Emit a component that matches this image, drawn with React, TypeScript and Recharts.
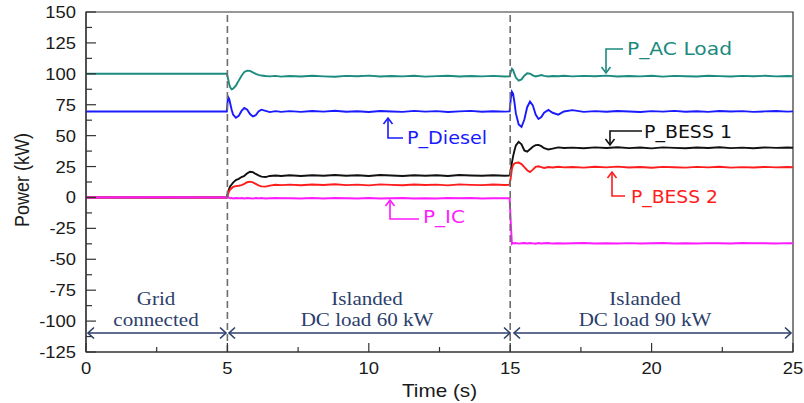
import React from 'react';
import { LineChart, Line, XAxis, YAxis, ReferenceLine, ReferenceArea } from 'recharts';

// Time axis (s)
const timeS = [
  0, 2.5, 4.98,
  5.02, 5.06, 5.1, 5.15, 5.2, 5.3, 5.4, 5.5, 5.6, 5.7, 5.8, 5.9, 6.0, 6.1, 6.2, 6.35, 6.5, 6.7, 6.9,
  7.2, 7.6, 8.0, 8.4, 8.8, 9.2, 9.6, 10.0, 10.4, 10.8, 11.2, 11.6, 12.0, 12.4, 12.8, 13.2, 13.6, 14.0, 14.4, 14.8, 14.98,
  15.02, 15.06, 15.1, 15.15, 15.2, 15.3, 15.4, 15.5, 15.6, 15.7, 15.8, 15.9, 16.0, 16.1, 16.2, 16.35, 16.5, 16.7, 16.9,
  17.2, 17.6, 18.0, 18.4, 18.8, 19.2, 19.6, 20.0, 20.4, 20.8, 21.2, 21.6, 22.0, 22.4, 22.8, 23.2, 23.6, 24.0, 24.4, 24.8, 25,
];

// P_AC Load (kW)
const pAcLoad = [
  100, 100, 100,
  96.5, 92, 89, 87.5, 88, 90.5, 94.5, 98.5, 101.5, 102.6, 102.4, 101.2, 100, 99.2, 98.6, 98.2, 97.9, 98.3, 97.7,
  98.2, 97.8, 98.4, 97.9, 97.6, 98.3, 98.0, 98.5, 97.8, 98.2, 97.9, 98.4, 97.7, 98.1, 98.4, 97.8, 98.2, 97.9, 98.3, 97.8, 98.0,
  101.5, 104, 103, 100, 97, 94.5, 95.5, 98.5, 100.5, 100.2, 98.8, 97.9, 98.4, 99.0, 98.3, 97.8, 98.2, 98.0, 98.4,
  97.9, 98.3, 98.0, 98.5, 97.8, 98.2, 97.9, 98.4, 97.7, 98.3, 98.0, 97.8, 98.4, 98.1, 97.8, 98.3, 98.0, 98.4, 97.9, 98.2, 98.0,
];

// P_Diesel (kW)
const pDiesel = [
  69.5, 69.5, 69.5,
  81.5, 80, 76, 71, 67, 64.5, 66, 70, 72.4, 71, 67.5, 65.5, 66.5, 69.5, 71, 70, 69, 69.8, 69.2,
  69.8, 69.2, 69.9, 69.4, 70.1, 69.3, 69.7, 69.1, 69.9, 69.5, 69.2, 70.0, 69.4, 69.8, 69.1, 69.6, 70.0, 69.3, 69.7, 69.4, 69.6,
  80, 85.5, 84, 77, 68, 59, 57, 63, 73, 77.5, 74.5, 67, 63.5, 65, 68.5, 70.8, 68.5, 67, 69.5,
  70.6, 69.2, 69.8, 69.3, 69.9, 69.5, 69.1, 69.8, 69.4, 70.0, 69.3, 69.7, 69.2, 69.9, 69.5, 69.8, 69.2, 69.6, 69.9, 69.4, 69.6,
];

// P_BESS 1 (kW)
const pBess1 = [
  0, 0, 0,
  4, 7, 9, 10.5, 12, 14, 15, 16.5, 17.5, 19.5, 20.8, 20.5, 19, 17.8, 16.8, 16.5, 17.4, 17.8, 17.3,
  17.9, 17.4, 18.0, 17.6, 18.2, 17.5, 17.9, 17.3, 18.1, 17.7, 17.4, 18.0, 17.6, 17.9, 17.3, 18.1, 17.7, 17.5, 18.0, 17.6, 17.8,
  22, 28, 33, 38, 42, 45, 43, 38, 37, 39, 41, 42.3, 42.5, 41.5, 39.8, 38.8, 39.5, 40.5, 40,
  40.3, 39.8, 40.5, 40.0, 40.6, 39.9, 40.4, 39.7, 40.5, 40.1, 39.8, 40.4, 40.0, 40.6, 39.9, 40.3, 39.8, 40.5, 40.1, 40.4, 40.2,
];

// P_BESS 2 (kW)
const pBess2 = [
  0, 0, 0,
  2.5, 5, 6.5, 7.5, 8.5, 9.2, 9.5, 10, 11, 12.3, 12.8, 12.2, 11, 9.8, 9, 8.8, 9.6, 10.3, 10.0,
  10.4, 9.9, 10.5, 10.1, 10.7, 10.0, 10.4, 9.8, 10.6, 10.2, 9.9, 10.5, 10.1, 10.4, 9.8, 10.6, 10.2, 10.0, 10.5, 10.1, 10.3,
  16, 23, 26, 27.5, 28, 28.2, 27, 24.5, 22, 20.5, 22.5, 24.8, 25.2, 24.5, 23.8, 24.6, 24.2, 24.8, 24.3,
  24.6, 24.1, 24.8, 24.3, 24.9, 24.2, 24.6, 24.0, 24.7, 24.4, 24.1, 24.7, 24.3, 24.8, 24.1, 24.5, 24.2, 24.7, 24.3, 24.6, 24.4,
];

// P_IC (kW)
const pIc = [
  0, 0.2, 0,
  0.5, -0.3, -0.6, -0.4, -0.8, -0.5, -0.7, -0.4, -0.8, -0.5, -0.6, -0.9, -0.5, -0.7, -0.4, -0.8, -0.6, -0.5, -0.7,
  -0.6, -0.9, -0.5, -0.8, -0.4, -0.7, -0.9, -0.5, -0.8, -0.6, -0.4, -0.8, -0.6, -0.9, -0.5, -0.7, -0.4, -0.8, -0.6, -0.7, -0.6,
  -20, -37.5, -36.8, -37.2, -36.9, -37.3, -37.0, -36.8, -37.2, -36.9, -37.1, -37.4, -36.9, -37.2, -37.0, -36.8, -37.3, -37.0, -37.2,
  -37.0, -36.8, -37.3, -37.0, -37.2, -36.9, -37.3, -37.0, -36.8, -37.2, -37.0, -37.3, -36.9, -37.1, -37.2, -36.8, -37.1, -37.0, -37.3, -36.9, -37.1,
];

const xTicks = [0, 2.5, 5, 7.5, 10, 12.5, 15, 17.5, 20, 22.5, 25];
const yTicks = [-125, -112.5, -100, -87.5, -75, -62.5, -50, -37.5, -25, -12.5, 0, 12.5, 25, 37.5, 50, 62.5, 75, 87.5, 100, 112.5, 125, 137.5, 150];
const eventTimes = [5, 15];

const rows = timeS.map((t, i) => ({
  t,
  acLoad: pAcLoad[i],
  diesel: pDiesel[i],
  bess1: pBess1[i],
  bess2: pBess2[i],
  ic: pIc[i],
}));

const SANS = 'Liberation Sans, Arial, sans-serif';
const SERIF = 'Liberation Serif, Times New Roman, serif';
const LABEL_FONT = 'DejaVu Sans, Verdana, sans-serif';
const NAVY = '#2c3e6b';

const XTick = (props: any) => {
  const { x, y, payload } = props;
  const v = payload.value;
  const major = v % 5 === 0;
  return (
    <g>
      <line x1={x} y1={y} x2={x} y2={y - (major ? 9 : 5)} stroke="#333" strokeWidth={1.2} />
      {major && (
        <text transform={`translate(${x} ${y + 22}) scale(1.15 1)`} textAnchor="middle" fontSize={16} fontFamily={SANS} fill="#1a1a1a">
          {v}
        </text>
      )}
    </g>
  );
};

const YTick = (props: any) => {
  const { x, y, payload } = props;
  const v = payload.value;
  const major = v % 25 === 0;
  return (
    <g>
      <line x1={x} y1={y} x2={x + (major ? 10 : 6)} y2={y} stroke="#333" strokeWidth={1.2} />
      {major && (
        <text transform={`translate(${x - 10} ${y + 6}) scale(1.15 1)`} textAnchor="end" fontSize={16} fontFamily={SANS} fill="#1a1a1a">
          {v}
        </text>
      )}
    </g>
  );
};

const XTitle = (props: any) => {
  const vb = props.viewBox || { x: 86, y: 352, width: 707, height: 51 };
  return (
    <text transform={`translate(${vb.x + vb.width / 2} ${vb.y + 45}) scale(1.15 1)`} textAnchor="middle" fontSize={18} fontFamily={SANS} fill="#1a1a1a">
      Time (s)
    </text>
  );
};

const YTitle = (props: any) => {
  const vb = props.viewBox || { x: 0, y: 12, width: 86, height: 340 };
  return (
    <text transform={`translate(${vb.x + 29} ${vb.y + 168}) rotate(-90) scale(1 1.15)`} textAnchor="middle" fontSize={18} fontFamily={SANS} fill="#1a1a1a">
      Power (kW)
    </text>
  );
};

const Chev = ({ x, y, dir, color }: { x: number; y: number; dir: 'up' | 'down' | 'left' | 'right'; color: string }) => {
  const s = 6;
  const w = 4.5;
  let d = '';
  if (dir === 'down') d = `M${x - w},${y - s} L${x},${y} L${x + w},${y - s}`;
  if (dir === 'up') d = `M${x - w},${y + s} L${x},${y} L${x + w},${y + s}`;
  if (dir === 'left') d = `M${x + s},${y - w - 1} L${x},${y} L${x + s},${y + w + 1}`;
  if (dir === 'right') d = `M${x - s},${y - w - 1} L${x},${y} L${x - s},${y + w + 1}`;
  return <path d={d} fill="none" stroke={color} strokeWidth={1.6} />;
};

const SeriesLabel = ({ text, x, y, len, color }: { text: string; x: number; y: number; len: number; color: string }) => (
  <text x={x} y={y} fontSize={17} fontFamily={LABEL_FONT} fill={color} textLength={len} lengthAdjust="spacingAndGlyphs">
    {text}
  </text>
);

const RegionText = ({ x, y, text }: { x: number; y: number; text: string }) => (
  <text transform={`translate(${x} ${y}) scale(1.17 1)`} textAnchor="middle" fontSize={18} fontFamily={SERIF} fill={NAVY}>
    {text}
  </text>
);

const Span = ({ x1, x2, y }: { x1: number; x2: number; y: number }) => (
  <g>
    <line x1={x1} y1={y} x2={x2} y2={y} stroke={NAVY} strokeWidth={1.6} />
    <Chev x={x1} y={y} dir="left" color={NAVY} />
    <Chev x={x2} y={y} dir="right" color={NAVY} />
  </g>
);

const TEAL = '#1b8a7f';
const BLUE = '#1a1aff';
const BLACK = '#111111';
const RED = '#ff1c1c';
const MAGENTA = '#ff1aff';

export default function App() {
  return (
    <div style={{ position: 'absolute', left: 0, top: 0, width: 804, height: 403, background: '#fff' }}>
      <LineChart width={804} height={403} data={rows} margin={{ top: 12, right: 11, bottom: 0, left: 0 }}>
        <XAxis
          dataKey="t"
          type="number"
          domain={[0, 25]}
          ticks={xTicks}
          interval={0}
          tickSize={0}
          tickMargin={0}
          tickLine={false}
          tick={<XTick />}
          height={51}
          axisLine={{ stroke: '#333', strokeWidth: 1.2 }}
          label={{ content: (p: any) => <XTitle {...p} /> }}
        />
        <YAxis
          type="number"
          domain={[-125, 150]}
          ticks={yTicks}
          interval={0}
          tickSize={0}
          tickMargin={0}
          tickLine={false}
          tick={<YTick />}
          width={86}
          axisLine={{ stroke: '#333', strokeWidth: 1.2 }}
          label={{ content: (p: any) => <YTitle {...p} /> }}
        />
        <ReferenceArea x1={0} x2={25} y1={-125} y2={150} fill="none" fillOpacity={0} stroke="#333" strokeWidth={1.2} />
        <Line type="linear" dataKey="acLoad" stroke={TEAL} strokeWidth={1.9} dot={false} isAnimationActive={false} />
        <Line type="linear" dataKey="diesel" stroke={BLUE} strokeWidth={1.9} dot={false} isAnimationActive={false} />
        <Line type="linear" dataKey="bess1" stroke={BLACK} strokeWidth={1.9} dot={false} isAnimationActive={false} />
        <Line type="linear" dataKey="bess2" stroke={RED} strokeWidth={1.9} dot={false} isAnimationActive={false} />
        <Line type="linear" dataKey="ic" stroke={MAGENTA} strokeWidth={1.9} dot={false} isAnimationActive={false} />
        {eventTimes.map((t) => (
          <ReferenceLine key={t} x={t} stroke="#6e6e6e" strokeWidth={1.6} strokeDasharray="7 4" />
        ))}
      </LineChart>
      <svg width={804} height={403} style={{ position: 'absolute', left: 0, top: 0, pointerEvents: 'none' }}>
        {/* series labels */}
        <path d="M623,49 L606,49 L606,73" fill="none" stroke={TEAL} strokeWidth={1.6} />
        <Chev x={606} y={73} dir="down" color={TEAL} />
        <SeriesLabel text="P_AC Load" x={627} y={55} len={105} color={TEAL} />

        <path d="M403,138 L388,138 L388,118" fill="none" stroke={BLUE} strokeWidth={1.6} />
        <Chev x={388} y={118} dir="up" color={BLUE} />
        <SeriesLabel text="P_Diesel" x={407} y={144} len={80} color={BLUE} />

        <path d="M642,131 L610,131 L610,145" fill="none" stroke={BLACK} strokeWidth={1.6} />
        <Chev x={610} y={145} dir="down" color={BLACK} />
        <SeriesLabel text="P_BESS 1" x={644} y={138} len={88} color={BLACK} />

        <path d="M625,196 L612,196 L612,172" fill="none" stroke={RED} strokeWidth={1.6} />
        <Chev x={612} y={172} dir="up" color={RED} />
        <SeriesLabel text="P_BESS 2" x={631} y={203} len={87} color={RED} />

        <path d="M419,219 L390,219 L390,200" fill="none" stroke={MAGENTA} strokeWidth={1.6} />
        <Chev x={390} y={200} dir="up" color={MAGENTA} />
        <SeriesLabel text="P_IC" x={423} y={223} len={42} color={MAGENTA} />

        {/* operating regions */}
        <RegionText x={156} y={305} text="Grid" />
        <RegionText x={156} y={326} text="connected" />
        <RegionText x={367} y={305} text="Islanded" />
        <RegionText x={367} y={326} text="DC load 60 kW" />
        <RegionText x={645} y={305} text="Islanded" />
        <RegionText x={645} y={326} text="DC load 90 kW" />
        <Span x1={88} x2={226} y={333} />
        <Span x1={229} x2={510} y={333} />
        <Span x1={514} x2={791} y={333} />
      </svg>
    </div>
  );
}
